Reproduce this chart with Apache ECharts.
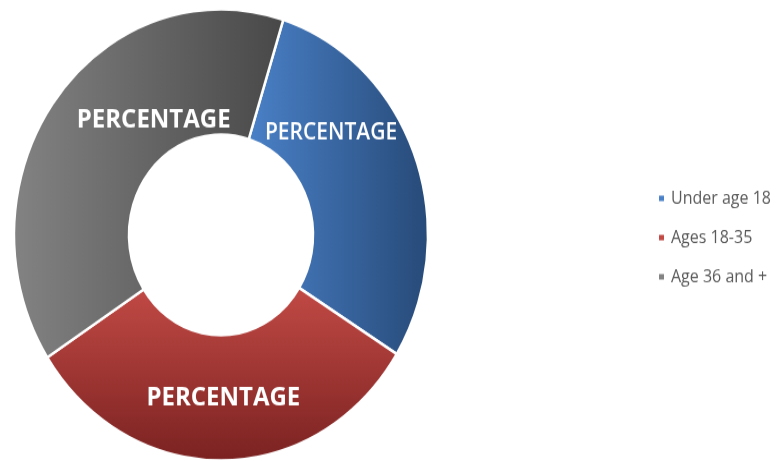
<!DOCTYPE html>
<html>
<head>
<meta charset="utf-8">
<script src="https://cdn.jsdelivr.net/npm/echarts@6/dist/echarts.min.js"></script>
<style>
html,body{margin:0;padding:0;background:#fff;overflow:hidden;}
#wrap{width:781px;height:461px;overflow:hidden;}
#chart{width:781px;height:423px;transform:scaleY(1.0898);transform-origin:0 0;}
</style>
</head>
<body>
<div id="wrap"><div id="chart"></div></div>
<script>
const categories = ['Under age 18', 'Ages 18-35', 'Age 36 and +'];
const values = [29, 32, 39];
const labelTexts = ['PERCENTAGE', 'PERCENTAGE', 'PERCENTAGE'];

const fills = [
  {x:0,y:0,x2:1,y2:0,stops:['#4a81c8','#274a78']},
  {x:0,y:0,x2:0,y2:1,stops:['#c24a45','#7a2221']},
  {x:0,y:0,x2:1,y2:0,stops:['#838383','#484848']}
];
const labelStyle = [
  {fontSize:21, fontWeight:600, offset:[-33,-40.5]},
  {fontSize:24, fontWeight:'bold', offset:[1,-2.5]},
  {fontSize:24, fontWeight:'bold', offset:[54,-12.5]}
];

const chart = echarts.init(document.getElementById('chart'), null, {renderer:'canvas'});
const data = categories.map((name, i) => ({
  name: name,
  value: values[i],
  itemStyle: {
    color: new echarts.graphic.LinearGradient(fills[i].x, fills[i].y, fills[i].x2, fills[i].y2, [
      {offset:0, color:fills[i].stops[0]},
      {offset:1, color:fills[i].stops[1]}
    ])
  },
  label: {
    formatter: labelTexts[i],
    fontSize: labelStyle[i].fontSize,
    fontWeight: labelStyle[i].fontWeight,
    offset: labelStyle[i].offset
  }
}));

chart.setOption({
  animation: false,
  legend: {
    orient: 'vertical',
    left: 652,
    top: 169,
    itemWidth: 7,
    itemHeight: 7,
    itemGap: 20,
    icon: 'rect',
    data: categories.map((c, i) => ({name: c, itemStyle: {color: fills[i].stops[0]}})),
    textStyle: {fontFamily: 'Open Sans', fontSize: 16, color: '#595959', padding:[0,0,0,1]}
  },
  series: [{
    type: 'pie',
    center: [221, 215.5],
    radius: [92, 207],
    startAngle: 72.5,
    clockwise: true,
    avoidLabelOverlap: false,
    itemStyle: {borderColor: '#fff', borderWidth: 2.5},
    label: {
      show: true,
      position: 'inside',
      color: '#fff',
      fontFamily: 'Open Sans'
    },
    labelLine: {show: false},
    emphasis: {disabled: true},
    data: data
  }]
});
</script>
</body>
</html>
